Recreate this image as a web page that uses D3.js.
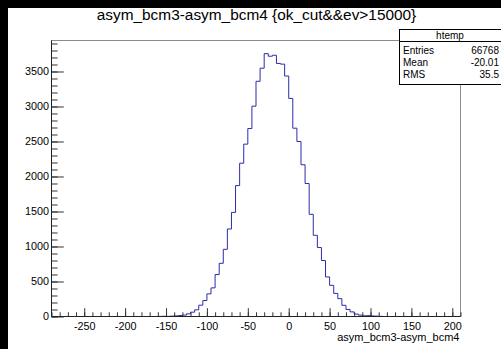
<!DOCTYPE html>
<html>
<head>
<meta charset="utf-8">
<script src="https://cdn.jsdelivr.net/npm/d3@7"></script>
<style>
  html, body { margin: 0; padding: 0; background: #fff; }
  svg { display: block; font-family: "Liberation Sans", Arial, Helvetica, sans-serif; }
</style>
</head>
<body>
<svg id="chart" width="501" height="349"></svg>
<script>
// Histogram of asym_bcm3 - asym_bcm4, 5-unit bins (lower edges and counts)
const binLow = [-160, -155, -150, -145, -140, -135, -130, -125, -120, -115,
                -110, -105, -100, -95, -90, -85, -80, -75, -70, -65,
                -60, -55, -50, -45, -40, -35, -30, -25, -20, -15,
                -10, -5, 0, 5, 10, 15, 20, 25, 30, 35,
                40, 45, 50, 55, 60, 65, 70, 75, 80, 85,
                90, 95, 100, 105, 110];
const counts = [1, 3, 2, 5, 9, 14, 20, 38, 62, 95,
                162, 228, 323, 409, 599, 760, 960, 1250, 1487, 1870,
                2190, 2462, 2685, 3005, 3360, 3547, 3755, 3718, 3732, 3615,
                3605, 3435, 3115, 2690, 2500, 2168, 1900, 1460, 1160, 985,
                800, 565, 445, 330, 255, 160, 100, 66, 35, 20,
                10, 12, 8, 5, 2];
const binWidth = 5;
const xRange = [-290, 210];

const xTickValues = [-250, -200, -150, -100, -50, 0, 50, 100, 150, 200];
const yTickValues = [0, 500, 1000, 1500, 2000, 2500, 3000, 3500];

const titleText = "asym_bcm3-asym_bcm4 {ok_cut&&ev>15000}";
const xTitle = "asym_bcm3-asym_bcm4";
const statTitle = "htemp";
const statLabels = ["Entries", "Mean", "RMS"];
const statValues = ["66768", "-20.01", "35.5"];

const svg = d3.select("#chart");
const frame = { left: 51.5, right: 460.5, top: 40.5, bottom: 316.5 };

// window border
svg.append("rect").attr("x", 0).attr("y", 0).attr("width", 501).attr("height", 349).attr("fill", "#000");
svg.append("rect").attr("x", 8).attr("y", 8).attr("width", 501).attr("height", 349).attr("fill", "#fff");

const x = d3.scaleLinear().domain(xRange).range([frame.left, frame.right]);
const yMax = d3.max(counts) * 1.05;
const y = d3.scaleLinear().domain([0, yMax]).range([frame.bottom, frame.top]);

// frame box
svg.append("rect")
  .attr("x", frame.left).attr("y", frame.top)
  .attr("width", frame.right - frame.left).attr("height", frame.bottom - frame.top)
  .attr("fill", "none").attr("stroke", "#8c8c8c").attr("stroke-width", 1);

// histogram outline
const pts = [[xRange[0], 0]];
binLow.forEach((lo, i) => pts.push([lo, counts[i]]));
pts.push([binLow[binLow.length - 1] + binWidth, 0]);
pts.push([xRange[1], 0]);
const line = d3.line().x(d => x(d[0])).y(d => y(d[1])).curve(d3.curveStepAfter);
svg.append("path").attr("d", line(pts))
  .attr("fill", "none").attr("stroke", "#2c2cab").attr("stroke-width", 1);

// axes
const minorX = d3.range(xRange[0], xRange[1] + 0.001, 10);
const minorY = d3.range(0, yMax, 100);

const xMinor = svg.append("g").attr("transform", `translate(0,${frame.bottom})`)
  .call(d3.axisBottom(x).tickValues(minorX).tickSize(-4.2).tickFormat(""));
const xMajor = svg.append("g").attr("transform", `translate(0,${frame.bottom})`)
  .call(d3.axisBottom(x).tickValues(xTickValues).tickSize(-8.3).tickPadding(5.6).tickFormat(d3.format("d")));
const yMinor = svg.append("g").attr("transform", `translate(${frame.left},0)`)
  .call(d3.axisLeft(y).tickValues(minorY).tickSize(-6.1).tickFormat(""));
const yMajor = svg.append("g").attr("transform", `translate(${frame.left},0)`)
  .call(d3.axisLeft(y).tickValues(yTickValues).tickSize(-12.3).tickPadding(2.5).tickFormat(d3.format("d")));

[xMinor, xMajor, yMinor, yMajor].forEach(g => {
  g.select(".domain").remove();
  g.selectAll(".tick line").attr("stroke", "#333");
  g.selectAll("text").attr("fill", "#000").attr("font-size", 10.8)
    .attr("font-family", "'Liberation Sans', Arial, sans-serif");
});
xMajor.selectAll("text").text(d => d < 0 ? "-" + Math.abs(d) : String(d));

// axis lines
svg.append("line").attr("x1", frame.left).attr("x2", frame.right)
  .attr("y1", frame.bottom).attr("y2", frame.bottom).attr("stroke", "#222");
svg.append("line").attr("x1", frame.left).attr("x2", frame.left)
  .attr("y1", frame.top).attr("y2", frame.bottom).attr("stroke", "#222");

// axis title
svg.append("text").attr("x", frame.right - 1).attr("y", 340.5)
  .attr("text-anchor", "end").attr("font-size", 11).attr("fill", "#000").text(xTitle);

// title
svg.append("text").attr("x", 256.5).attr("y", 20)
  .attr("text-anchor", "middle").attr("font-size", 15.4).attr("fill", "#000").text(titleText);

// statistics box
const sb = { x: 399.5, y: 29.5, w: 110, h: 55 };
const stat = svg.append("g");
stat.append("rect").attr("x", sb.x).attr("y", sb.y).attr("width", sb.w).attr("height", sb.h)
  .attr("fill", "#fff").attr("stroke", "#000");
stat.append("line").attr("x1", sb.x).attr("x2", sb.x + sb.w)
  .attr("y1", 41.5).attr("y2", 41.5).attr("stroke", "#000");
stat.append("text").attr("x", 450).attr("y", 38.5).attr("text-anchor", "middle")
  .attr("font-size", 10).attr("fill", "#000").text(statTitle);
const rowY = [53.5, 65.5, 77.5];
statLabels.forEach((lab, i) => {
  stat.append("text").attr("x", 403).attr("y", rowY[i]).attr("font-size", 10).attr("fill", "#000").text(lab);
  stat.append("text").attr("x", 499).attr("y", rowY[i]).attr("text-anchor", "end")
    .attr("font-size", 10).attr("fill", "#000").text(statValues[i]);
});
</script>
</body>
</html>
